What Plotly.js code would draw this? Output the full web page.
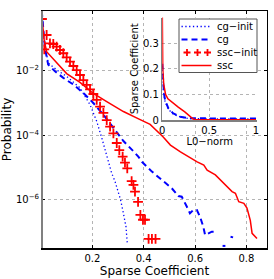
<!DOCTYPE html>
<html><head><meta charset="utf-8">
<script src="https://cdn.plot.ly/plotly-3.0.1.min.js"></script>
<style>html,body{margin:0;padding:0;background:#fff}#chart{width:274px;height:279px}</style>
</head><body><div id="chart"></div>
<script>
// ---------- data ----------
const seriesNames = ["cg\u2212init", "cg", "ssc\u2212init", "ssc"];
const mainXLabel = "Sparse Coefficient";
const mainYLabel = "Probability";
const insetXLabel = "L0\u2212norm";
const insetYLabel = "Sparse Coefficient";
const xTickVals = [0.2, 0.4, 0.6, 0.8];
const xTickText = ["0.2", "0.4", "0.6", "0.8"];
const yTickVals = [1e-6, 1e-4, 1e-2];
const yTickText = ["10<sup>\u22126</sup>", "10<sup>\u22124</sup>", "10<sup>\u22122</sup>"];
const insetXTickVals = [0, 0.5, 1];
const insetXTickText = ["0", "0.5", "1"];
const insetYTickVals = [0, 0.1, 0.2, 0.3];
const insetYTickText = ["0", "0.1", "0.2", "0.3"];

// main panel: probability vs sparse coefficient
const cgInitX = [0.003, 0.012, 0.028, 0.062, 0.100, 0.152, 0.191, 0.217, 0.238, 0.257, 0.275, 0.288, 0.301, 0.310, 0.321, 0.331, 0.336];
const cgInitY = [0.74, 0.092, 0.0178, 0.0107, 6.8e-3, 3.0e-3, 9.0e-4, 2.74e-4, 7.7e-5, 2.3e-5, 6.8e-6, 3.8e-6, 1.59e-6, 9.9e-7, 3.8e-7, 1.46e-7, 4.5e-8];

const cgX = [0.003, 0.009, 0.0156, 0.028, 0.0545, 0.087, 0.126, 0.165, 0.204, 0.243, 0.282, 0.321, 0.360, 0.379, 0.393, 0.432, 0.471, 0.509, 0.535, 0.548, 0.568, 0.580, 0.593, 0.607, 0.619, 0.632, 0.639, 0.665, 0.686, null, 0.707, 0.718, null, 0.738, 0.748];
const cgY = [0.74, 0.216, 0.0518, 0.0158, 9.8e-3, 6.1e-3, 3.8e-3, 2.07e-3, 1.01e-3, 4.4e-4, 1.76e-4, 6.7e-5, 3.2e-5, 2.2e-5, 1.52e-5, 7.5e-6, 4.1e-6, 2.3e-6, 1.31e-6, 1.25e-6, 6.1e-7, 3.8e-7, 4.8e-7, 4.8e-7, 3.0e-7, 1.46e-7, 8.1e-8, 1.02e-7, 1.02e-7, null, 3.7e-8, 3.7e-8, null, 7.1e-8, 6.8e-8];

const sscInitX = [0.004, 0.013, 0.022, 0.035, 0.048, 0.061, 0.074, 0.087, 0.100, 0.113, 0.126, 0.139, 0.152, 0.165, 0.178, 0.191, 0.204, 0.217, 0.230, 0.243, 0.256, 0.269, 0.282, 0.295, 0.305, 0.318, 0.327, 0.336, 0.353, 0.360, 0.366, 0.378, 0.387, 0.397, 0.405, 0.419, 0.432, 0.446];
const sscInitY = [0.412, 0.0472, 0.131, 0.0724, 0.069, 0.0569, 0.0449, 0.0355, 0.0266, 0.0195, 0.0143, 0.0107, 7.5e-3, 5.2e-3, 3.7e-3, 2.7e-3, 1.93e-3, 1.26e-3, 7.8e-4, 5.0e-4, 3.0e-4, 1.86e-4, 1.16e-4, 5.8e-5, 3.5e-5, 2.2e-5, 1.42e-5, 9.5e-6, 3.8e-6, 2.9e-6, 1.8e-6, 8.6e-7, 3.4e-7, 2.4e-7, 2.4e-7, 6.1e-8, 6.1e-8, 6.1e-8];

const sscX = [0.004, 0.0125, 0.022, 0.048, 0.074, 0.100, 0.152, 0.204, 0.256, 0.321, 0.382, 0.425, 0.475, 0.504, 0.543, 0.582, 0.608, 0.634, 0.647, 0.679, 0.705, 0.725, 0.744, 0.757, 0.770, 0.790, 0.802, 0.815, 0.822, 0.841];
const sscY = [0.412, 0.0912, 0.0398, 0.0240, 0.0138, 8.3e-3, 4.4e-3, 2.0e-3, 1.12e-3, 5.5e-4, 3.2e-4, 2.2e-4, 9.1e-5, 5.0e-5, 3.1e-5, 1.95e-5, 1.5e-5, 1.2e-5, 8.3e-6, 5.9e-6, 3.6e-6, 2.6e-6, 1.8e-6, 1.6e-6, 8.7e-7, 7.8e-7, 5.5e-7, 2.3e-7, 9.1e-8, 6.3e-8];

// inset: sparse coefficient vs L0-norm
const insetCgInitX = [0, 0.01, 0.03, 0.07, 0.12, 0.20, 0.30, 0.60, 1.0];
const insetCgInitY = [0.21, 0.12, 0.07, 0.04, 0.022, 0.011, 0.005, 0.004, 0.004];
const insetCgX = [0, 0.005, 0.015, 0.03, 0.064, 0.117, 0.19, 0.28, 0.40, 0.60, 0.80, 1.0];
const insetCgY = [0.22, 0.16, 0.11, 0.078, 0.046, 0.026, 0.013, 0.007, 0.006, 0.006, 0.006, 0.006];
const insetSscX = [0, 0.005, 0.015, 0.035, 0.06, 0.10, 0.17, 0.24, 0.29, 0.33, 0.36, 0.60, 1.0];
const insetSscY = [0.42, 0.20, 0.14, 0.10, 0.083, 0.07, 0.05, 0.032, 0.015, 0.004, 0.001, 0.001, 0.001];

// ---------- styles ----------
const BLUE = "#0000ff", RED = "#ff0000";
const FONT = "DejaVu Sans, Arial, sans-serif";
const W = 274, H = 279, M = {l: 42, r: 7, t: 11, b: 31};
const PW = W - M.l - M.r, PH = H - M.t - M.b;
const px2x = p => (p - M.l) / PW;
const py2y = p => (M.t + PH - p) / PH;

const dotStyle = {color: BLUE, width: 1.3, dash: "1.3px,2.5px"};
const dashStyle = {color: BLUE, width: 2, dash: "6px,4px"};
const solidStyle = {color: RED, width: 1.5};

const traces = [
  {x: cgInitX, y: cgInitY, mode: "lines", line: dotStyle, name: seriesNames[0], showlegend: false},
  {x: cgX, y: cgY, mode: "lines", line: dashStyle, name: seriesNames[1], showlegend: false, connectgaps: false},
  {x: sscInitX, y: sscInitY, mode: "markers", name: seriesNames[2], showlegend: false,
   marker: {symbol: "cross-thin", size: 7, color: RED, line: {color: RED, width: 1.8}}},
  {x: sscX, y: sscY, mode: "lines", line: solidStyle, name: seriesNames[3], showlegend: false},
  {x: insetCgInitX, y: insetCgInitY, xaxis: "x2", yaxis: "y2", mode: "lines", line: dotStyle, showlegend: false},
  {x: insetCgX, y: insetCgY, xaxis: "x2", yaxis: "y2", mode: "lines", line: dashStyle, showlegend: false},
  {x: insetSscX, y: insetSscY, xaxis: "x2", yaxis: "y2", mode: "lines", line: solidStyle, showlegend: false}
];

// custom legend (MATLAB-like compact box)
const legRows = [26.5, 39.5, 52.5, 65.5];
const sx0 = 181.5, sx1 = 211.5;
const shapes = [
  {type: "line", xref: "paper", yref: "paper", x0: 0, x1: 0, y0: 0, y1: 1, line: {color: "#808080", width: 2}},
  {type: "rect", xref: "paper", yref: "paper", x0: px2x(179), x1: px2x(257), y0: py2y(72.5), y1: py2y(19),
   fillcolor: "#ffffff", line: {color: "#555555", width: 1}},
  {type: "line", xref: "paper", yref: "paper", x0: px2x(sx0), x1: px2x(sx1), y0: py2y(legRows[0]), y1: py2y(legRows[0]), line: dotStyle},
  {type: "line", xref: "paper", yref: "paper", x0: px2x(sx0), x1: px2x(sx1), y0: py2y(legRows[1]), y1: py2y(legRows[1]), line: dashStyle},
  {type: "line", xref: "paper", yref: "paper", x0: px2x(sx0), x1: px2x(sx1), y0: py2y(legRows[3]), y1: py2y(legRows[3]), line: solidStyle}
];
[187, 197.5, 207.5].forEach(cx => {
  const cy = legRows[2], r = 3.5;
  shapes.push({type: "path", xref: "paper", yref: "paper",
    path: `M${px2x(cx - r)},${py2y(cy)} L${px2x(cx + r)},${py2y(cy)} M${px2x(cx)},${py2y(cy - r)} L${px2x(cx)},${py2y(cy + r)}`,
    line: {color: RED, width: 1.8}});
});
const annotations = seriesNames.map((n, i) => ({
  xref: "paper", yref: "paper", x: px2x(214.5), y: py2y(legRows[i]), xanchor: "left", yanchor: "middle",
  text: n, showarrow: false, font: {family: FONT, size: 10, color: "#000"}
}));

const gridCol = "#b4b4b4";
const layout = {
  width: W, height: H, margin: M,
  paper_bgcolor: "#ffffff", plot_bgcolor: "#ffffff",
  font: {family: FONT, size: 10, color: "#000"},
  showlegend: false,
  xaxis: {
    range: [0.004, 0.880], tickvals: xTickVals, ticktext: xTickText,
    showline: true, linecolor: "#000", linewidth: 1.5, mirror: "ticks",
    ticks: "inside", ticklen: 3, tickcolor: "#000",
    showgrid: true, gridcolor: gridCol, griddash: "dot", gridwidth: 1, zeroline: false,
    title: {text: mainXLabel, font: {family: FONT, size: 12}, standoff: 4},
    tickfont: {family: FONT, size: 10}
  },
  yaxis: {
    type: "log", range: [-7.497, -0.137], tickvals: yTickVals, ticktext: yTickText,
    showline: true, linecolor: "#000", linewidth: 1, mirror: "ticks",
    ticks: "inside", ticklen: 3, tickcolor: "#000",
    showgrid: true, gridcolor: gridCol, griddash: "dot", gridwidth: 1, zeroline: false,
    title: {text: mainYLabel, font: {family: FONT, size: 12}, standoff: 2},
    tickfont: {family: FONT, size: 10}
  },
  xaxis2: {
    anchor: "y2", domain: [px2x(162.3), px2x(257)], range: [0, 1.0107],
    tickvals: insetXTickVals, ticktext: insetXTickText,
    showline: true, linecolor: "#808080", linewidth: 1.5, mirror: false,
    ticks: "", showgrid: true, gridcolor: gridCol, griddash: "dot", gridwidth: 1, zeroline: false,
    title: {text: insetXLabel, font: {family: FONT, size: 10}, standoff: 1},
    tickfont: {family: FONT, size: 10}
  },
  yaxis2: {
    anchor: "x2", domain: [py2y(120), py2y(17.6)], range: [0, 0.4],
    tickvals: insetYTickVals, ticktext: insetYTickText,
    showline: true, linecolor: "#808080", linewidth: 1.5, mirror: false,
    ticks: "", showgrid: true, gridcolor: gridCol, griddash: "dot", gridwidth: 1, zeroline: false,
    title: {text: insetYLabel, font: {family: FONT, size: 10}, standoff: 2},
    tickfont: {family: FONT, size: 10}
  },
  shapes: shapes,
  annotations: annotations
};

Plotly.newPlot("chart", traces, layout, {displayModeBar: false, staticPlot: true});
</script>
</body></html>
